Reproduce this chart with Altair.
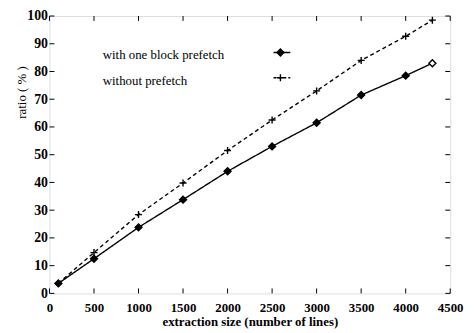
import altair as alt
import pandas as pd

# ---- data ----
sizes = [100, 500, 1000, 1500, 2000, 2500, 3000, 3500, 4000, 4300]
with_prefetch = [3.6, 12.5, 23.8, 33.8, 44.0, 53.0, 61.5, 71.5, 78.5, 83.0]
without_prefetch = [3.6, 14.7, 28.4, 39.8, 51.5, 62.5, 73.0, 84.0, 92.7, 98.5]
series_names = ["with one block prefetch", "without prefetch"]
x_ticks = [0, 500, 1000, 1500, 2000, 2500, 3000, 3500, 4000, 4500]
y_ticks = [0, 10, 20, 30, 40, 50, 60, 70, 80, 90, 100]

W, H = 406, 281
FONT = "Liberation Serif"
PLUS = "M-1,0L1,0M0,-1L0,1"
X_TITLE = "extraction size (number of lines)"
Y_TITLE = "ratio ( % )"

rows = []
for s, vals in zip(series_names, [with_prefetch, without_prefetch]):
    for i, (x, y) in enumerate(zip(sizes, vals)):
        rows.append({"size": x, "ratio": y, "series": s,
                     "last": i == len(sizes) - 1})
df = pd.DataFrame(rows)

xs = alt.Scale(domain=[0, 4500], nice=False)
ys = alt.Scale(domain=[0, 100], nice=False)

x_axis = alt.Axis(values=x_ticks, format="d", tickSize=0, domain=False, grid=False,
                  labelFont=FONT, labelFontSize=13, labelFontWeight="bold",
                  labelColor="black", labelPadding=8, labelOverlap=False,
                  title=X_TITLE,
                  titleFont=FONT, titleFontSize=13, titleFontWeight="bold",
                  titleColor="black", titlePadding=2, labelFlush=False)
y_axis = alt.Axis(values=y_ticks, format="d", tickSize=0, domain=False, grid=False,
                  labelFont=FONT, labelFontSize=14, labelFontWeight="bold",
                  labelColor="black", labelPadding=2, labelOverlap=False,
                  labelFlush=False,
                  title=Y_TITLE, titleFont=FONT, titleFontSize=13,
                  titleFontWeight="normal", titleColor="black",
                  titleX=-28, titleY=77, titleAngle=270,
                  titleBaseline="middle", titleAlign="center")


def X(field):
    return alt.X(field, scale=xs, axis=x_axis, title=X_TITLE)


def Y(field):
    return alt.Y(field, scale=ys, axis=y_axis, title=Y_TITLE)


base = alt.Chart(df)

lines = base.mark_line(color="black", strokeWidth=1.4).encode(
    x=X("size:Q"), y=Y("ratio:Q"),
    detail="series:N",
    strokeDash=alt.condition(alt.datum.series == series_names[1],
                             alt.value([4, 3]), alt.value([1, 0])),
)

points = base.mark_point(stroke="black", strokeWidth=1.4, opacity=1).encode(
    x=X("size:Q"), y=Y("ratio:Q"),
    shape=alt.Shape("series:N",
                    scale=alt.Scale(domain=series_names,
                                    range=["diamond", PLUS]),
                    legend=None),
    fill=alt.condition((alt.datum.series == series_names[0]) & (~alt.datum.last),
                       alt.value("black"), alt.value("white")),
    size=alt.value(50),
)

# manual legend: label on the left, symbol on the right
leg_layers = []
for name, ly, shp, dash in [(series_names[0], 37, "diamond", [1, 0]),
                            (series_names[1], 62.5, PLUS, [3, 2])]:
    ldf = pd.DataFrame({"label": [name]})
    lb = alt.Chart(ldf)
    leg_layers.append(lb.mark_text(align="left", baseline="middle", font=FONT,
                                   fontSize=13, color="black").encode(
        text="label:N", x=alt.value(54), y=alt.value(ly + 3)))
    leg_layers.append(lb.mark_rule(color="black", strokeWidth=1.4,
                                   strokeDash=dash).encode(
        x=alt.value(227), x2=alt.value(244), y=alt.value(ly)))
    leg_layers.append(lb.mark_point(shape=shp, size=50, filled=False,
                                    fill="black", stroke="black",
                                    strokeWidth=1.4, opacity=1).encode(
        x=alt.value(234), y=alt.value(ly)))

# inward tick marks on all four sides
xt = pd.DataFrame({"v": x_ticks})
yt = pd.DataFrame({"v": y_ticks})
tick_b = alt.Chart(xt).mark_rule(color="black").encode(
    x=X("v:Q"), y=alt.value(H), y2=alt.value(H - 5))
tick_t = alt.Chart(xt).mark_rule(color="black").encode(
    x=X("v:Q"), y=alt.value(0), y2=alt.value(5))
tick_l = alt.Chart(yt).mark_rule(color="black").encode(
    y=Y("v:Q"), x=alt.value(0), x2=alt.value(5))
tick_r = alt.Chart(yt).mark_rule(color="black").encode(
    y=Y("v:Q"), x=alt.value(W), x2=alt.value(W - 5))

chart = alt.layer(lines, tick_b, tick_t, tick_l, tick_r, points,
                  *leg_layers).properties(
    width=W, height=H,
    autosize=alt.AutoSizeParams(type="none"),
    padding={"left": 42, "top": 6, "right": 16, "bottom": 37},
).configure_view(stroke="black", strokeWidth=1.3).configure(background="white")

chart.save("out.html", embed_options={"renderer": "svg", "actions": False})
